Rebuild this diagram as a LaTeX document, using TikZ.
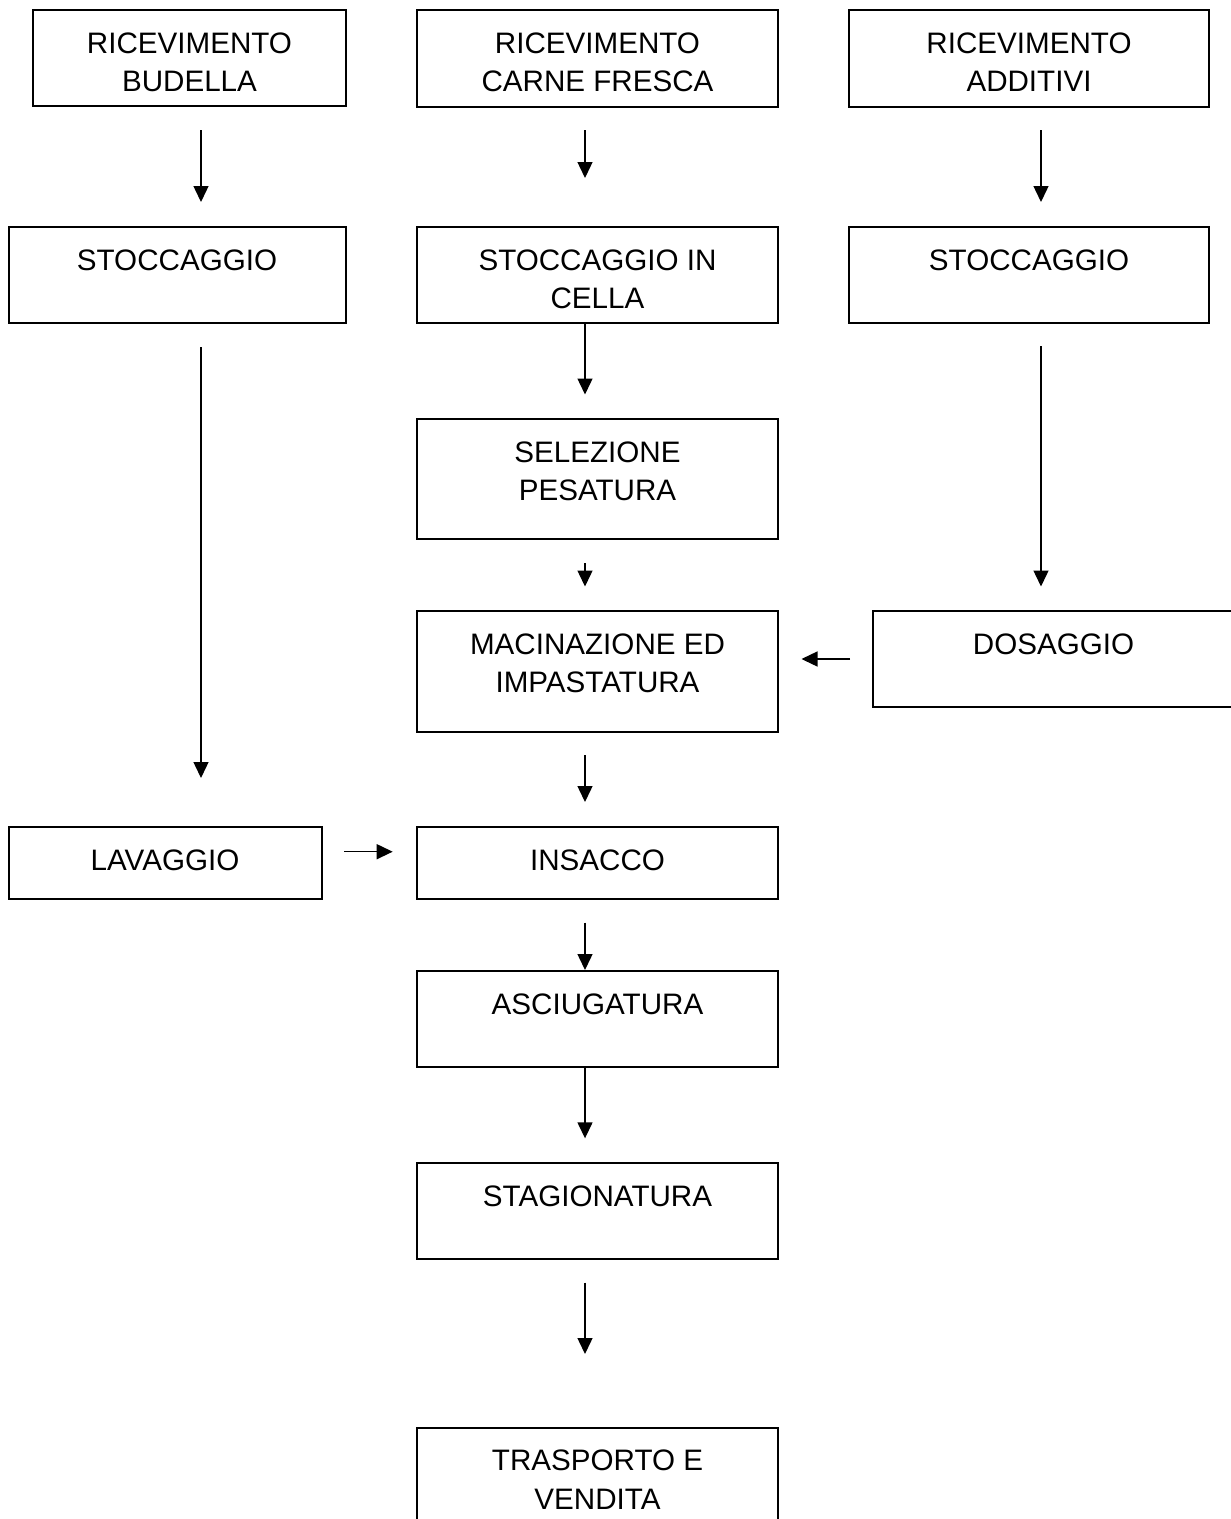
\documentclass[tikz,border=0pt]{standalone}
\usepackage{fontspec}
\setmainfont{Liberation Sans}
\usepackage{tikz}
\usetikzlibrary{arrows.meta}

\newcommand{\testofase}[3]{\parbox[c][#2][t]{#1}{\fontsize{29.6pt}{38.5pt}\selectfont\centering\rule{0pt}{43pt}#3}}

\tikzset{
  fase/.style={draw, line width=2pt, inner sep=0pt, outer sep=0pt, anchor=north west},
  freccia/.style={line width=1.4pt, -{Triangle[length=16pt, width=15pt]}}
}

\begin{document}
\begin{tikzpicture}[x=1pt, y=-1pt]
      \useasboundingbox (0, 0) rectangle (1231, 1519);
      \coordinate (xsin) at (201, 0);
      \coordinate (xcen) at (585, 0);
      \coordinate (xdes) at (1041, 0);

      \node[fase] (recbud) at (33, 10){\testofase{313pt}{96pt}{RICEVIMENTO\\BUDELLA}};
      \node[fase] (carne) at (417, 10){\testofase{361pt}{97pt}{RICEVIMENTO\\CARNE FRESCA}};
      \node[fase] (additivi) at (849, 10){\testofase{360pt}{97pt}{RICEVIMENTO\\ADDITIVI}};
      \node[fase] (stocbud) at (8.5, 227){\testofase{337pt}{96pt}{STOCCAGGIO}};
      \node[fase] (cella) at (417, 227){\testofase{361pt}{96pt}{STOCCAGGIO IN\\CELLA}};
      \node[fase] (stocadd) at (849, 227){\testofase{360pt}{96pt}{STOCCAGGIO}};
      \node[fase] (selezione) at (417, 419){\testofase{361pt}{120pt}{SELEZIONE\\PESATURA}};
      \node[fase] (macinazione) at (417, 611){\testofase{361pt}{120.5pt}{MACINAZIONE ED\\IMPASTATURA}};
      \node[fase] (dosaggio) at (873, 611){\testofase{361pt}{96pt}{DOSAGGIO}};
      \node[fase] (lavaggio) at (8.5, 827){\testofase{313pt}{72pt}{LAVAGGIO}};
      \node[fase] (insacco) at (417, 827){\testofase{361pt}{72pt}{INSACCO}};
      \node[fase] (asciugatura) at (417, 971){\testofase{361pt}{96pt}{ASCIUGATURA}};
      \node[fase] (stagionatura) at (417, 1163){\testofase{361pt}{96pt}{STAGIONATURA}};
      \node[fase] (trasporto) at (417, 1427.5){\testofase{361pt}{120pt}{TRASPORTO E\\VENDITA}};

      \draw[freccia, shorten <=24pt, shorten >=25pt] (recbud.south -| xsin) -- (stocbud.north -| xsin);
      \draw[freccia, shorten <=23pt, shorten >=49pt] (carne.south -| xcen) -- (cella.north -| xcen);
      \draw[freccia, shorten <=23pt, shorten >=25pt] (additivi.south -| xdes) -- (stocadd.north -| xdes);
      \draw[freccia, shorten <=24pt, shorten >=49pt] (stocbud.south -| xsin) -- (lavaggio.north -| xsin);
      \draw[freccia, shorten >=24.5pt] (cella.south -| xcen) -- (selezione.north -| xcen);
      \draw[freccia, shorten <=23pt, shorten >=24.5pt] (stocadd.south -| xdes) -- (dosaggio.north -| xdes);
      \draw[freccia, shorten <=24pt, shorten >=24.5pt] (selezione.south -| xcen) -- (macinazione.north -| xcen);
      \draw[freccia, shorten <=23pt, shorten >=23.5pt] (dosaggio.west) -- (dosaggio.west -| macinazione.east);
      \draw[freccia, shorten <=23.5pt, shorten >=25pt] (macinazione.south -| xcen) -- (insacco.north -| xcen);
      \draw[freccia, shorten <=22.5pt, shorten >=24.3pt] ([yshift=11.3pt]lavaggio.east) -- ([yshift=11.3pt]lavaggio.east -| insacco.west);
      \draw[freccia, shorten <=23.7pt, shorten >=1pt] (insacco.south -| xcen) -- (asciugatura.north -| xcen);
      \draw[freccia, shorten >=24.7pt] (asciugatura.south -| xcen) -- (stagionatura.north -| xcen);
      \draw[freccia, shorten <=23.7pt, shorten >=73.5pt] (stagionatura.south -| xcen) -- (trasporto.north -| xcen);
\end{tikzpicture}
\end{document}
